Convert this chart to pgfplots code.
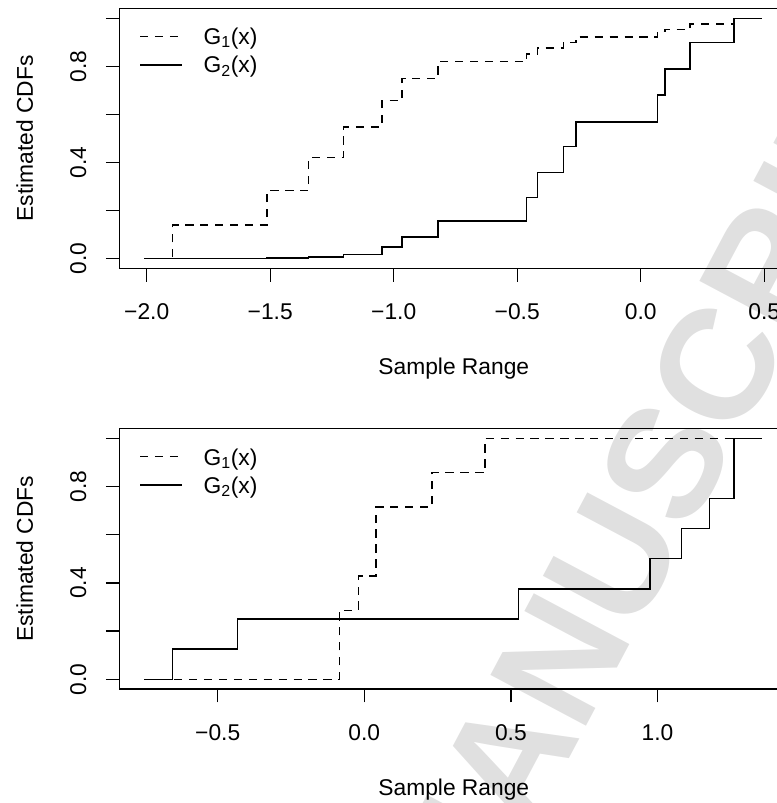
\documentclass[border=0pt]{standalone}
\usepackage{fontspec}
\setmainfont{Liberation Sans}
\usepackage{pgfplots}
\pgfplotsset{compat=1.18}

% 1 px of the reference = 0.75pt; origin at the top left corner
\pgfplotsset{
  cdfaxis/.style={
    scale only axis,
    anchor=south west,
    width=501.75pt,
    ymin=-0.04, ymax=1.04,
    ytick={0,0.2,0.4,0.6,0.8,1},
    yticklabels={0.0,,0.4,,0.8,},
    tick align=outside,
    tick pos=left,
    major tick length=10.1pt,
    tick style={black, line width=1pt},
    axis line style={line width=1pt},
    xticklabel style={anchor=base, inner sep=0pt},
    xticklabel shift=28.65pt,
    yticklabel style={rotate=90, anchor=base, inner sep=0pt},
    yticklabel shift=14.85pt,
    xlabel={Sample Range},
    ylabel={Estimated CDFs},
    every axis x label/.style={at={(axis description cs:0.5,-0.409)}, anchor=base},
    every axis y label/.style={at={(axis description cs:-0.1293,0.5)}, rotate=90, anchor=base},
  },
  g1/.style={const plot, black, line width=1pt, dash pattern=on 6.2pt off 5pt},
  g2/.style={const plot, black, line width=1pt},
}

\begin{document}
\fontsize{17.1pt}{20pt}\selectfont
\begin{tikzpicture}
% watermark
\begin{scope}
\clip (0,0) rectangle (582.75pt,-602.25pt);
\node[rotate=62, anchor=base west, inner sep=0pt, text=black!12,
      font=\fontsize{118pt}{118pt}\selectfont\bfseries] at (396pt,-627pt) {ANUSCRIPT};
\node[rotate=62, anchor=base east, inner sep=0pt, text=black!12,
      font=\fontsize{118pt}{118pt}\selectfont\bfseries] at (396pt,-627pt) {ACCEPTED M};
\end{scope}

% top panel
\begin{axis}[cdfaxis,
  at={(89.475pt,-201.225pt)},
  height=194.7pt,
  xmin=-2.111, xmax=0.5975,
  xtick={-2,-1.5,-1,-0.5,0,0.5},
  xticklabels={−2.0,−1.5,−1.0,−0.5,0.0,0.5},
]
\addplot[g1] coordinates {
  (-2.01,0) (-1.895,0.140) (-1.513,0.283) (-1.345,0.420) (-1.202,0.548)
  (-1.048,0.657) (-0.967,0.749) (-0.821,0.819) (-0.462,0.852) (-0.417,0.877)
  (-0.313,0.899) (-0.262,0.922) (0.069,0.946) (0.098,0.954) (0.200,0.976)
  (0.378,1.0) (0.49,1.0)
};
\addplot[g2] coordinates {
  (-2.01,0) (-1.895,0.0) (-1.513,0.003) (-1.345,0.007) (-1.202,0.018)
  (-1.048,0.049) (-0.967,0.090) (-0.821,0.157) (-0.462,0.254) (-0.417,0.358)
  (-0.313,0.466) (-0.262,0.569) (0.069,0.681) (0.098,0.789) (0.200,0.899)
  (0.378,1.0) (0.49,1.0)
};
\end{axis}

% bottom panel
\begin{axis}[cdfaxis,
  at={(89.475pt,-516.675pt)},
  height=195.2pt,
  xmin=-0.8356, xmax=1.4461,
  xtick={-0.5,0,0.5,1},
  xticklabels={−0.5,0.0,0.5,1.0},
]
\addplot[g1] coordinates {
  (-0.7506,0) (-0.085,0.2857) (-0.020,0.4286) (0.040,0.7143) (0.231,0.8571)
  (0.412,1.0) (1.357,1.0)
};
\addplot[g2] coordinates {
  (-0.7506,0) (-0.6535,0.125) (-0.4318,0.25) (0.525,0.375) (0.974,0.5)
  (1.0825,0.625) (1.1767,0.75) (1.261,1.0) (1.357,1.0)
};
\end{axis}

% legends
\draw[line width=1pt, dash pattern=on 6.2pt off 5pt] (105pt,-27.5pt) -- (136.3pt,-27.5pt);
\draw[line width=1pt] (105pt,-48.75pt) -- (136.3pt,-48.75pt);
\node[anchor=base west, inner sep=0pt] at (152.5pt,-33.4pt) {G\textsubscript{1}(x)};
\node[anchor=base west, inner sep=0pt] at (152.5pt,-54.6pt) {G\textsubscript{2}(x)};

\draw[line width=1pt, dash pattern=on 6.2pt off 5pt] (105pt,-342.5pt) -- (136.3pt,-342.5pt);
\draw[line width=1pt] (105pt,-363.75pt) -- (136.3pt,-363.75pt);
\node[anchor=base west, inner sep=0pt] at (152.5pt,-348.9pt) {G\textsubscript{1}(x)};
\node[anchor=base west, inner sep=0pt] at (152.5pt,-370.1pt) {G\textsubscript{2}(x)};

\pgfresetboundingbox
\path[use as bounding box] (0,0) rectangle (582.75pt,-602.25pt);
\end{tikzpicture}
\end{document}
